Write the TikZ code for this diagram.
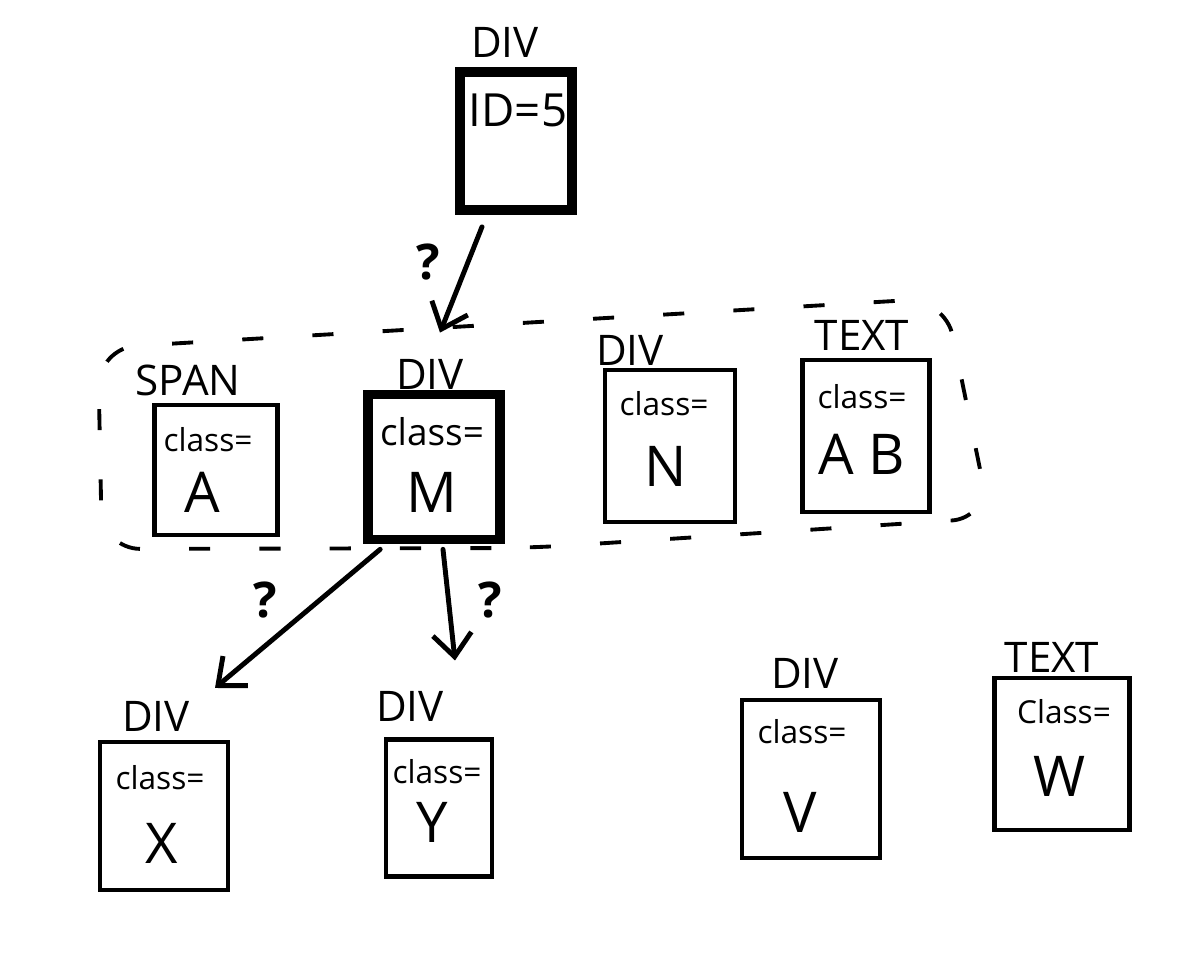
\documentclass[tikz,border=0pt]{standalone}
\usepackage{fontspec}
\setmainfont{Open Sans}
\usetikzlibrary{arrows.meta,calc}
\tikzset{
  box/.style 2 args={draw, line width=2.3pt, minimum width=#1*0.02cm, minimum height=#2*0.02cm, inner sep=0pt},
  heavy/.style={line width=5.5pt},
  tag/.style={inner sep=0pt, font=\fontsize{24}{26}\selectfont},
  cls/.style={inner sep=0pt, font=\fontsize{18}{20}\selectfont},
  val/.style={inner sep=0pt, font=\fontsize{32}{34}\selectfont},
  qm/.style={inner sep=0pt, font=\fontsize{28}{30}\selectfont\bfseries},
  arr/.style={line width=2.8pt, line cap=round, -{Straight Barb[length=13pt, width=22pt, line width=2.8pt]}},
  groupline/.style={line width=2.2pt, dash pattern=on 12pt off 28pt, rounded corners=22pt}
}
\begin{document}
\begin{tikzpicture}[x=0.02cm, y=-0.02cm]
\useasboundingbox[fill=white] (0,0) rectangle (1201,954);

% group outline
\draw[groupline] (530,548) -- (102,549) -- (98,348) -- (945,298) -- (990,518) -- cycle;

% top box
\node[box={112}{138}, heavy] (top) at (516,141) {};
\node[tag] (toplab) at (505,42) {DIV};
\node[inner sep=0pt, font=\fontsize{26}{28}\selectfont] (topid) at (518,110) {ID=5};

% row in group
\node[box={123}{130}] (span) at (216,470) {};
\node[tag] (spanlab) at (188,380) {SPAN};
\node[cls] at (208,440) {class=};
\node[val] at (202,492) {A};

\node[box={132}{145}, heavy] (m) at (434,467) {};
\node[tag] (mlab) at (430,374) {DIV};
\node[cls, font=\fontsize{21}{23}\selectfont] at (432,432) {class=};
\node[val] at (432,492) {M};

\node[box={130}{152}] (n) at (670,446) {};
\node[tag] (nlab) at (630,350) {DIV};
\node[cls] at (664,404) {class=};
\node[val] at (666,466) {N};

\node[box={127}{152}] (t1) at (866,436) {};
\node[tag] (t1lab) at (862,335) {TEXT};
\node[cls] at (862,397) {class=};
\node[val] at (862,454) {A B};

% bottom row
\node[box={128}{148}] (x) at (164,816) {};
\node[tag] (xlab) at (156,716) {DIV};
\node[cls] at (160,778) {class=};
\node[val] at (162,843) {X};

\node[box={106}{137}] (y) at (439,808) {};
\node[tag] (ylab) at (410,706) {DIV};
\node[cls] at (437,772) {class=};
\node[val] at (432,822) {Y};

\node[box={138}{158}] (v) at (811,779) {};
\node[tag] (vlab) at (805,673) {DIV};
\node[cls] at (802,732) {class=};
\node[val] at (800,812) {V};

\node[box={135}{152}] (w) at (1062,754) {};
\node[tag] (wlab) at (1052,657) {TEXT};
\node[cls] at (1064,712) {Class=};
\node[val] at (1060,776) {W};

% arrows
\draw[arr] ($(top.south)+(-34,12)$) -- ($(mlab.north)+(10,-26)$);
\draw[arr] ($(m.south west)+(17,5)$) -- ($(x.north)+(51,-52)$);
\draw[arr] ($(m.south)+(9,5)$) -- ($(y.north)+(16,-77)$);

% question marks
\node[qm] (q1) at (428,262) {?};
\node[qm] (q2) at (265,600) {?};
\node[qm] (q3) at (490,600) {?};
\end{tikzpicture}
\end{document}
